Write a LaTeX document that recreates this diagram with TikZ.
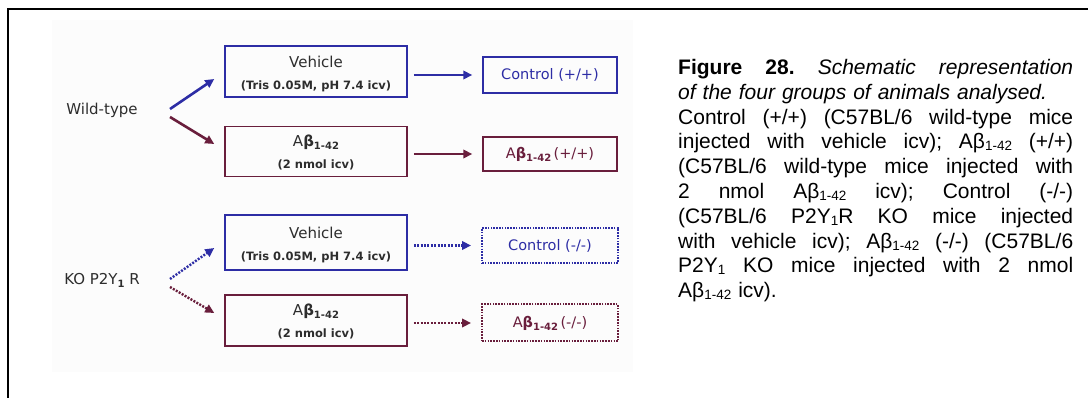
\documentclass[tikz,border=0pt]{standalone}
\usepackage{fontspec}
\setmainfont{Liberation Sans}
\newfontfamily\dg{DejaVu Sans}
\usetikzlibrary{arrows.meta}
\definecolor{cblue}{RGB}{45,45,165}
\definecolor{cmar}{RGB}{105,30,60}
\definecolor{ctxt}{RGB}{45,45,45}
\newcommand\dAb{A{\bfseries β}\raisebox{-3pt}{\bfseries\fontsize{10}{10}\selectfont 1-42}}
\newcommand\cAb{Aβ\raisebox{-2pt}{\fontsize{13.5}{13.5}\selectfont 1-42}}
\newcommand\csub[1]{\raisebox{-2pt}{\fontsize{13.5}{13.5}\selectfont #1}}
\newcommand\jline[1]{\leavevmode\hbox to 395pt{\frenchspacing\spaceskip=0.278em plus 1fil\relax\xspaceskip=\spaceskip #1}}
\begin{document}
\begin{tikzpicture}[x=1pt,y=-1pt,
  lbl/.style={font=\dg\fontsize{15}{18}\selectfont, inner sep=0pt, text=ctxt},
  lbox/.style={draw, line width=1.5pt, minimum width=182pt, inner sep=0pt, align=center, text=ctxt,
    font=\dg\fontsize{15}{22}\selectfont},
  rbox/.style={draw, line width=1.5pt, minimum width=134pt, minimum height=36pt, inner sep=0pt,
    font=\dg\fontsize{14.5}{17}\selectfont},
  dotbox/.style={draw, line width=2pt, dash pattern=on 1.6pt off 1.2pt, minimum width=136pt,
    minimum height=36pt, inner sep=0pt, font=\dg\fontsize{14.5}{17}\selectfont},
  arr/.style={line width=2.6pt, -{Triangle[length=9pt,width=8.5pt]}},
  darr/.style={line width=2.4pt, dash pattern=on 2pt off 1.4pt, -{Triangle[length=9pt,width=8.5pt]}},
  capt/.style={anchor=base west, inner sep=0pt, text width=395pt, align=left,
    font=\fontsize{21}{24.8}\selectfont}
]
\useasboundingbox (0,0) rectangle (1088,398);
\fill[white] (0,0) rectangle (1088,398);
\fill[black!1] (52,20) rectangle (633,372);
\draw[line width=2pt] (7.8,398) -- (7.8,9.5) -- (1088,9.5);

% left labels
\node[lbl] (wt) at (102,110) {Wild-type};
\node[lbl] (ko) at (102,280) {KO P2Y\raisebox{-3pt}{\bfseries\fontsize{10}{10}\selectfont 1} R};
\coordinate (wt1) at (170,109);
\coordinate (wt2) at (170,117);
\coordinate (ko1) at (170,279);
\coordinate (ko2) at (170,287);

% middle boxes
\node[lbox, draw=cblue, minimum height=51pt] (veh1) at (316,71.5)
  {\rule{0pt}{16pt}Vehicle\\{\bfseries\fontsize{11.5}{22}\selectfont (Tris 0.05M, pH 7.4 icv)}};
\node[lbox, draw=cmar, minimum height=50pt] (ab1) at (316,151.5)
  {\rule{0pt}{14pt}\dAb\\{\bfseries\fontsize{11.5}{20}\selectfont (2 nmol icv)}};
\node[lbox, draw=cblue, minimum height=55pt] (veh2) at (316,242.5)
  {\rule{0pt}{16pt}Vehicle\\{\bfseries\fontsize{11.5}{22}\selectfont (Tris 0.05M, pH 7.4 icv)}};
\node[lbox, draw=cmar, minimum height=51pt] (ab2) at (316,320.5)
  {\rule{0pt}{14pt}\dAb\\{\bfseries\fontsize{11.5}{20}\selectfont (2 nmol icv)}};

% right boxes
\node[rbox, draw=cblue, text=cblue] (ctl1) at (550,75) {Control (+/+)};
\node[rbox, draw=cmar, text=cmar, minimum height=34pt] (abr1) at (550,154) {\dAb\,(+/+)};
\node[dotbox, draw=cblue, text=cblue, minimum height=35pt] (ctl2) at (550,245.5) {Control (-/-)};
\node[dotbox, draw=cmar, text=cmar, minimum height=37pt] (abr2) at (550,323) {\dAb\,(-/-)};

% connectors
\draw[arr, cblue] (wt1) -- ([xshift=-10pt,yshift=-7.5pt]veh1.west);
\draw[arr, cmar] (wt2) -- ([xshift=-10pt,yshift=7.5pt]ab1.west);
\draw[darr, cblue] (ko1) -- ([xshift=-10pt,yshift=-5.5pt]veh2.west);
\draw[darr, cmar] (ko2) -- ([xshift=-10pt,yshift=7.5pt]ab2.west);

\draw[arr, cblue, shorten <=6pt, shorten >=10pt] (veh1.east |- ctl1.west) -- (ctl1.west);
\draw[arr, cmar, shorten <=6pt, shorten >=10pt] (ab1.east |- abr1.west) -- (abr1.west);
\draw[darr, cblue, shorten <=6pt, shorten >=10pt] (veh2.east |- ctl2.west) -- (ctl2.west);
\draw[darr, cmar, shorten <=6pt, shorten >=10pt] (ab2.east |- abr2.west) -- (abr2.west);

% caption
\node[capt] (cap) at (678,74.5) {%
\jline{\textbf{Figure 28.} \textit{Schematic representation}}\\
\textit{of the four groups of animals analysed.}\\
\jline{Control (+/+) (C57BL/6 wild-type mice}\\
\jline{injected with vehicle icv); \cAb{} (+/+)}\\
\jline{(C57BL/6 wild-type mice injected with}\\
\jline{2 nmol \cAb{} icv); Control (-/-)}\\
\jline{(C57BL/6 P2Y\csub{1}R KO mice injected}\\
\jline{with vehicle icv); \cAb{} (-/-) (C57BL/6}\\
\jline{P2Y\csub{1} KO mice injected with 2 nmol}\\
\cAb{} icv).};
\end{tikzpicture}
\end{document}
